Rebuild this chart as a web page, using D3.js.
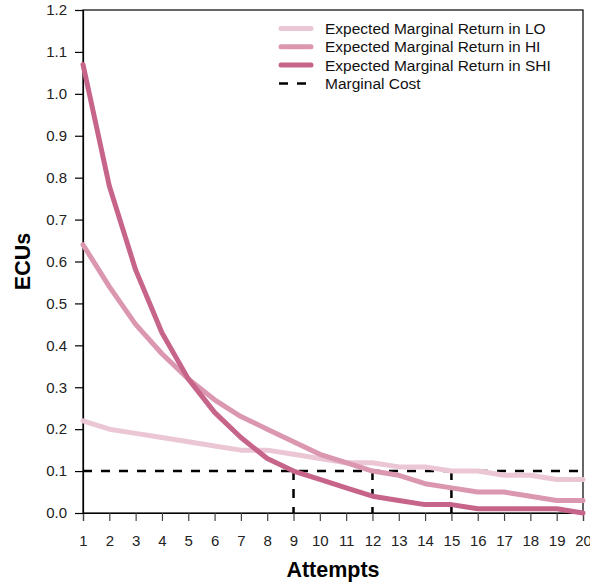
<!DOCTYPE html>
<html>
<head>
<meta charset="utf-8">
<script src="https://cdn.jsdelivr.net/npm/d3@7"></script>
<style>
  body { margin: 0; background: #fff; }
  svg { font-family: "Liberation Sans", Arial, sans-serif; }
</style>
</head>
<body>
<svg id="chart" width="590" height="583"></svg>
<script>
// values
const attempts = d3.range(1, 21);
const returnLO  = [0.22, 0.20, 0.19, 0.18, 0.17, 0.16, 0.15, 0.15, 0.14, 0.13, 0.12, 0.12, 0.11, 0.11, 0.10, 0.10, 0.09, 0.09, 0.08, 0.08];
const returnHI  = [0.64, 0.54, 0.45, 0.38, 0.32, 0.27, 0.23, 0.20, 0.17, 0.14, 0.12, 0.10, 0.09, 0.07, 0.06, 0.05, 0.05, 0.04, 0.03, 0.03];
const returnSHI = [1.07, 0.78, 0.58, 0.43, 0.32, 0.24, 0.18, 0.13, 0.10, 0.08, 0.06, 0.04, 0.03, 0.02, 0.02, 0.01, 0.01, 0.01, 0.01, 0.00];
const marginalCost = 0.1;
const costDrops = [9, 12, 15];
const yTicks = [0, 0.1, 0.2, 0.3, 0.4, 0.5, 0.6, 0.7, 0.8, 0.9, 1.0, 1.1, 1.2];

const series = [
  {name: "Expected Marginal Return in LO",  values: returnLO,  color: "#ebc6d5"},
  {name: "Expected Marginal Return in HI",  values: returnHI,  color: "#da97af"},
  {name: "Expected Marginal Return in SHI", values: returnSHI, color: "#c7648a"}
];

const svg = d3.select("#chart");
const margin = {top: 10, right: 7, bottom: 70, left: 83};
const width = 590, height = 583;
const font = "Liberation Sans, Arial, sans-serif";

const x = d3.scaleLinear([1, 20], [margin.left, width - margin.right]);
const y = d3.scaleLinear([0, 1.2], [height - margin.bottom, margin.top]);

// frame
svg.append("rect")
    .attr("x", margin.left)
    .attr("y", margin.top)
    .attr("width", x(20) - x(1))
    .attr("height", y(0) - y(1.2))
    .attr("fill", "none")
    .attr("stroke", "#000")
    .attr("stroke-width", 1.2);

// axes
svg.append("g")
    .attr("transform", `translate(0,${y(0)})`)
    .call(d3.axisBottom(x).tickValues(attempts).tickFormat(d3.format("d")).tickSize(8).tickPadding(14))
    .call(g => g.select(".domain").attr("stroke-width", 1.2))
    .call(g => g.selectAll(".tick line").attr("stroke", "#444").attr("stroke-width", 1.2))
    .call(g => g.selectAll("text").attr("font-size", 15).attr("fill", "#222").attr("font-family", font));

svg.append("g")
    .attr("transform", `translate(${margin.left},0)`)
    .call(d3.axisLeft(y).tickValues(yTicks).tickFormat(d3.format(".1f")).tickSize(8).tickPadding(8))
    .call(g => g.select(".domain").attr("stroke-width", 1.2))
    .call(g => g.selectAll(".tick line").attr("stroke-width", 1.2))
    .call(g => g.selectAll("text").attr("font-size", 15).attr("fill", "#222").attr("font-family", font));

// axis titles
svg.append("text")
    .attr("x", (x(1) + x(20)) / 2)
    .attr("y", 577)
    .attr("text-anchor", "middle")
    .attr("font-size", 21.5)
    .attr("font-weight", "bold")
    .text("Attempts");

svg.append("text")
    .attr("transform", `translate(30,${(y(0) + y(1.2)) / 2}) rotate(-90)`)
    .attr("text-anchor", "middle")
    .attr("font-size", 21.5)
    .attr("font-weight", "bold")
    .text("ECUs");

// marginal cost
const costG = svg.append("g")
    .attr("stroke", "#000")
    .attr("stroke-width", 2.5)
    .attr("stroke-dasharray", "9,9")
    .attr("fill", "none");
costG.append("line")
    .attr("x1", x(1)).attr("x2", x(20))
    .attr("y1", y(marginalCost)).attr("y2", y(marginalCost));
costG.selectAll("line.drop")
  .data(costDrops)
  .join("line")
    .attr("class", "drop")
    .attr("x1", d => x(d)).attr("x2", d => x(d))
    .attr("y1", y(marginalCost)).attr("y2", y(0));

// return lines
const line = d3.line()
    .x((d, i) => x(attempts[i]))
    .y(d => y(d));

svg.append("g")
    .attr("fill", "none")
    .attr("stroke-width", 5)
    .attr("stroke-linejoin", "round")
    .attr("stroke-linecap", "round")
  .selectAll("path")
  .data(series)
  .join("path")
    .attr("stroke", d => d.color)
    .attr("d", d => line(d.values));

// legend
const legendItems = series.map(s => ({name: s.name, color: s.color, dash: null, w: 5}))
  .concat([{name: "Marginal Cost", color: "#000", dash: "9,9", w: 2.5}]);

const legend = svg.append("g")
  .selectAll("g")
  .data(legendItems)
  .join("g")
    .attr("transform", (d, i) => `translate(279,${28.5 + i * 18.3})`);

legend.append("line")
    .attr("x1", d => d.dash ? 0 : 2).attr("x2", d => d.dash ? 34 : 32)
    .attr("stroke", d => d.color)
    .attr("stroke-width", d => d.w)
    .attr("stroke-linecap", d => d.dash ? "butt" : "round")
    .attr("stroke-dasharray", d => d.dash);

legend.append("text")
    .attr("x", 46)
    .attr("dy", "0.35em")
    .attr("font-size", 15.5)
    .attr("fill", "#111")
    .text(d => d.name);
</script>
</body>
</html>
